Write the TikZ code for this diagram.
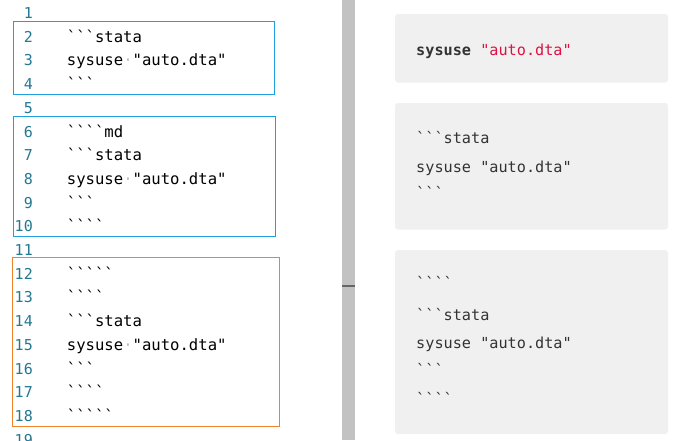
\documentclass[tikz,border=0pt]{standalone}
\usepackage{fontspec}
\setmonofont{DejaVu Sans Mono}
\begin{document}
\begin{tikzpicture}[x=1pt,y=-1pt,
  lnum/.style={anchor=base east,inner sep=0pt,text=lncol,font=\ttfamily\fontsize{15}{18}\selectfont},
  code/.style={anchor=base west,inner sep=0pt,text=black,font=\ttfamily\fontsize{15.6}{18}\selectfont},
  rcode/.style={anchor=base west,inner sep=0pt,text=rtext,font=\ttfamily\fontsize{15.2}{18}\selectfont},
  panel/.style={fill=panelgray,draw=none,rounded corners=3pt},
  bluebox/.style={draw=boxblue,line width=1pt},
  orangebox/.style={draw=boxorange,line width=1pt}]
\definecolor{lncol}{HTML}{237893}
\definecolor{boxblue}{HTML}{1E9FE0}
\definecolor{boxorange}{HTML}{F0832A}
\definecolor{panelgray}{HTML}{F0F0F0}
\definecolor{rtext}{HTML}{333333}
\definecolor{strred}{HTML}{DD1144}
\definecolor{wsdot}{HTML}{BBBBBB}
\useasboundingbox (0,0) rectangle (681,440);
\clip (0,0) rectangle (681,440);
\fill[white] (0,0) rectangle (681,440);
% line numbers
\foreach \k in {1,...,19}{
  \node[lnum] (ln\k) at (33,{18.5+(\k-1)*23.7}) {\k};
}
% code lines
\newcommand{\cy}[1]{18.5+(#1-1)*23.7}
\node[code] (c2) at (66.7,{\cy{2}}) {```stata};
\node[code] (c3) at (66.7,{\cy{3}}) {sysuse\textcolor{wsdot}{·}"auto.dta"};
\node[code] (c4) at (66.7,{\cy{4}}) {```};
\node[code] (c6) at (66.7,{\cy{6}}) {````md};
\node[code] (c7) at (66.7,{\cy{7}}) {```stata};
\node[code] (c8) at (66.7,{\cy{8}}) {sysuse\textcolor{wsdot}{·}"auto.dta"};
\node[code] (c9) at (66.7,{\cy{9}}) {```};
\node[code] (c10) at (66.7,{\cy{10}}) {````};
\node[code] (c12) at (66.7,{\cy{12}}) {`````};
\node[code] (c13) at (66.7,{\cy{13}}) {````};
\node[code] (c14) at (66.7,{\cy{14}}) {```stata};
\node[code] (c15) at (66.7,{\cy{15}}) {sysuse\textcolor{wsdot}{·}"auto.dta"};
\node[code] (c16) at (66.7,{\cy{16}}) {```};
\node[code] (c17) at (66.7,{\cy{17}}) {````};
\node[code] (c18) at (66.7,{\cy{18}}) {`````};
% boxes
\draw[bluebox] (13.3,21.7) rectangle (274.3,94.3);
\draw[bluebox] (13.3,116) rectangle (275.7,236);
\draw[orangebox] (12.7,257.7) rectangle (279.3,426);
% scrollbar
\fill[black!24] (341.5,0) rectangle (355,440);
\draw[black!60,line width=2pt] (342,286) -- (355,286);
% panels
\fill[panel] (395,14) rectangle (668,82.5);
\fill[panel] (395,103) rectangle (668,229.5);
\fill[panel] (395,250) rectangle (668,434);
\node[rcode] (p1) at (416,55) {\textbf{sysuse} \textcolor{strred}{"auto.dta"}};
\node[rcode] (p2a) at (416,143.3) {```stata};
\node[rcode] (p2b) at (416,172.6) {sysuse "auto.dta"};
\node[rcode] (p2c) at (416,198.5) {```};
\node[rcode] (p3a) at (416,288) {````};
\node[rcode] (p3b) at (416,320) {```stata};
\node[rcode] (p3c) at (416,348.3) {sysuse "auto.dta"};
\node[rcode] (p3d) at (416,375) {```};
\node[rcode] (p3e) at (416,404) {````};
\end{tikzpicture}
\end{document}
